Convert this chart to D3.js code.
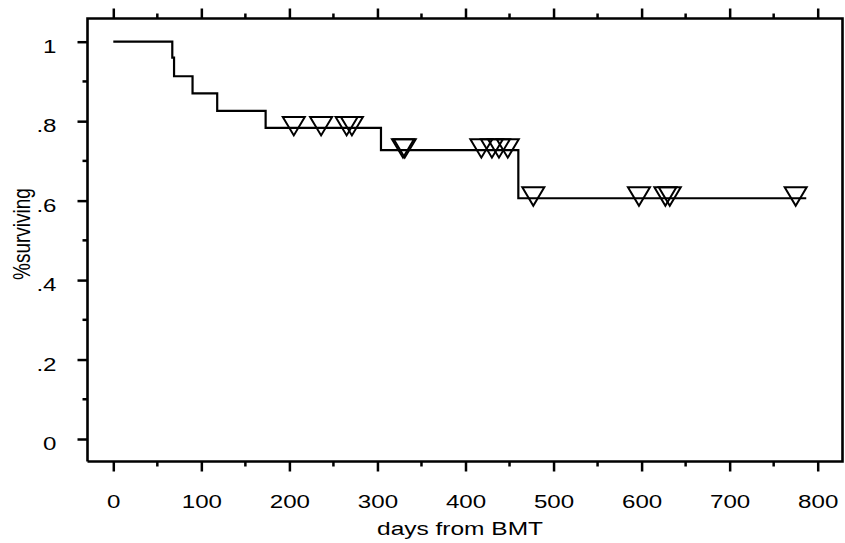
<!DOCTYPE html>
<html>
<head>
<meta charset="utf-8">
<script src="https://cdn.jsdelivr.net/npm/d3@7"></script>
<style>
  body { margin: 0; background: #fff; }
  text { font-family: "Liberation Sans", Arial, sans-serif; fill: #000; }
</style>
</head>
<body>
<script>
// Kaplan-Meier survival, days from BMT
var eventDays = [0, 67, 69, 90, 118, 173, 304, 460];
var survival  = [1, 0.96, 0.913, 0.870, 0.826, 0.783, 0.727, 0.606];
var lastDay = 787;
var censorDays = [205, 236, 265, 271, 329, 331, 418, 430, 438, 448, 477, 597, 627, 632, 775];
var xTicks = [0, 100, 200, 300, 400, 500, 600, 700, 800];
var yTicks = [0, 0.2, 0.4, 0.6, 0.8, 1];
var yTickLabels = ["0", ".2", ".4", ".6", ".8", "1"];

var W = 845, H = 543;
var frame = {left: 87.5, right: 842.5, top: 18.5, bottom: 461.5};
var sx = 1.27; // the original graphic is stretched sideways

var x = d3.scaleLinear().domain([0, 800]).range([113.3, 817.7]);
var y = d3.scaleLinear().domain([0, 1]).range([439, 41.7]);

var svg = d3.select("body").append("svg")
    .attr("width", W)
    .attr("height", H);

// minor ticks
var xMinor = d3.range(50, 850, 100);
var yMinor = [0.1, 0.3, 0.5, 0.7, 0.9];

// bottom axis
var bottomAx = svg.append("g")
    .attr("transform", "translate(0," + frame.bottom + ")")
    .call(d3.axisBottom(x).tickValues(xTicks).tickSize(10).tickPadding(23).tickFormat(d3.format("d")));
bottomAx.append("g").attr("class", "minor").selectAll("line").data(xMinor).enter().append("line")
    .attr("x1", x).attr("x2", x).attr("y1", 0).attr("y2", 5);

// top axis (ticks only)
var topAx = svg.append("g")
    .attr("transform", "translate(0," + frame.top + ")")
    .call(d3.axisTop(x).tickValues(xTicks).tickSize(10).tickFormat(""));
topAx.append("g").attr("class", "minor").selectAll("line").data(xMinor).enter().append("line")
    .attr("x1", x).attr("x2", x).attr("y1", 0).attr("y2", -5);

// left axis
var leftAx = svg.append("g")
    .attr("transform", "translate(" + frame.left + ",0)")
    .call(d3.axisLeft(y).tickValues(yTicks).tickSize(10).tickPadding(21)
        .tickFormat(function(d, i) { return yTickLabels[i]; }));
leftAx.append("g").attr("class", "minor").selectAll("line").data(yMinor).enter().append("line")
    .attr("y1", y).attr("y2", y).attr("x1", 0).attr("x2", -5);

svg.selectAll(".domain").remove();
svg.selectAll(".tick line, .minor line")
    .attr("stroke", "#000")
    .attr("stroke-width", 2.5);
svg.selectAll(".tick text")
    .style("font-size", "19px")
    .style("font-family", "'Liberation Sans', Arial, sans-serif")
    .attr("fill", "#000")
    .attr("transform", "scale(" + sx + ",1)");
leftAx.selectAll(".tick text")
    .attr("x", -31 / sx)
    .attr("dy", "0.56em");

// frame
svg.append("path")
    .attr("d", "M" + frame.left + "," + frame.bottom + "V" + frame.top + "H" + frame.right + "V" + frame.bottom + "H" + frame.left)
    .attr("fill", "none")
    .attr("stroke", "#000")
    .attr("stroke-width", 2.6);

// survival step line
var pts = eventDays.map(function(d, i) { return [d, survival[i]]; });
pts.push([lastDay, survival[survival.length - 1]]);
var line = d3.line()
    .x(function(d) { return x(d[0]); })
    .y(function(d) { return y(d[1]); })
    .curve(d3.curveStepAfter);

svg.append("path")
    .datum(pts)
    .attr("d", line)
    .attr("fill", "none")
    .attr("stroke", "#000")
    .attr("stroke-width", 2.2);

// censored marks: survival level at that day
function survAt(t) {
    var i = d3.bisectRight(eventDays, t) - 1;
    return survival[i];
}
var tri = "M-11,-11L11,-11L0,7.5Z";
svg.append("g").selectAll("path").data(censorDays).enter().append("path")
    .attr("transform", function(d) { return "translate(" + x(d) + "," + y(survAt(d)) + ")"; })
    .attr("d", tri)
    .attr("fill", "none")
    .attr("stroke", "#000")
    .attr("stroke-width", 2)
    .attr("stroke-linejoin", "miter");

// axis titles
svg.append("text")
    .attr("transform", "translate(460,535) scale(1.29,1)")
    .attr("text-anchor", "middle")
    .style("font-size", "19px")
    .text("days from BMT");

svg.append("text")
    .attr("transform", "translate(29.5,234) scale(" + sx + ",1) rotate(-90)")
    .attr("text-anchor", "middle")
    .style("font-size", "19px")
    .text("%surviving");
</script>
</body>
</html>
